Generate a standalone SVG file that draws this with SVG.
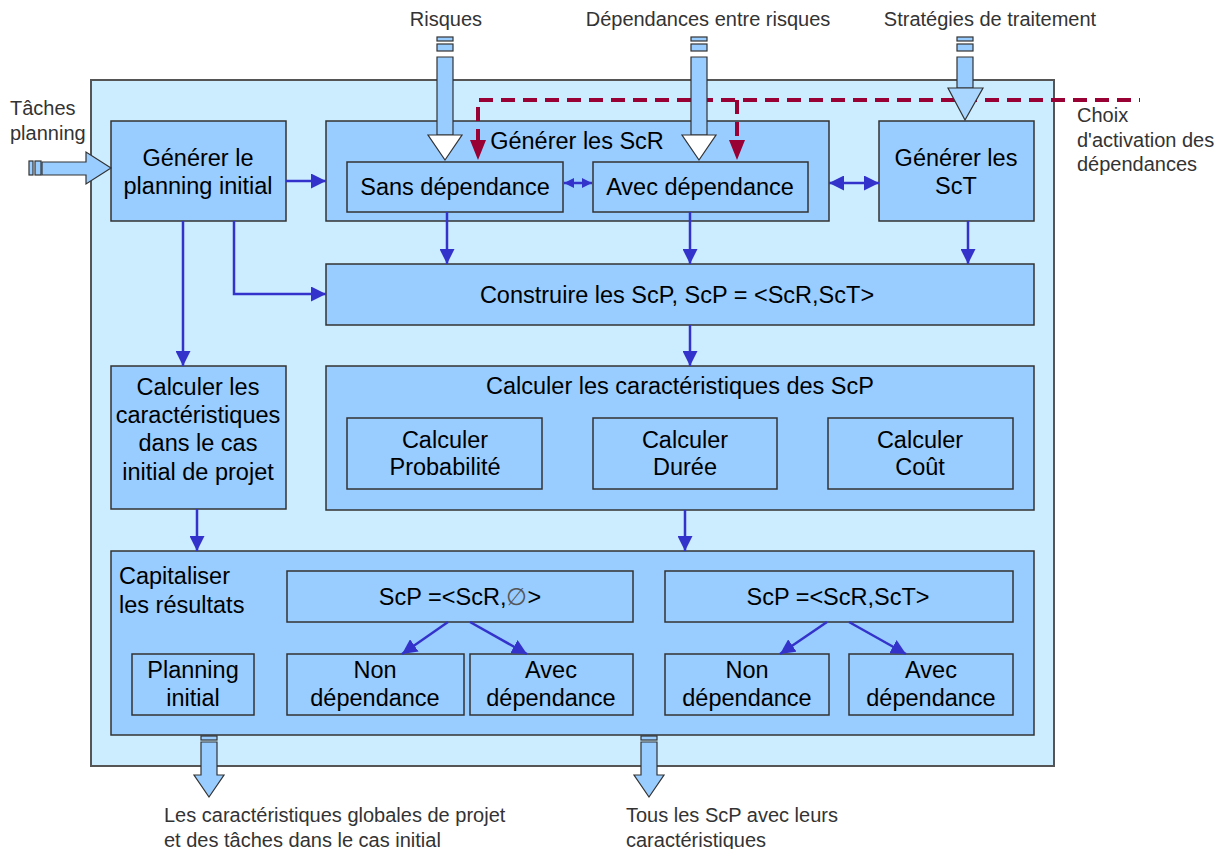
<svg xmlns="http://www.w3.org/2000/svg" width="1224" height="849" viewBox="0 0 1224 849">
<defs>
<style>
.outer{fill:#CCECFF;stroke:#555;stroke-width:2}
.box{fill:#99CCFF;stroke:#333;stroke-width:1.5}
.t{font-family:"Liberation Sans",Arial,sans-serif;font-size:23.5px;fill:#000;text-anchor:middle}
.tl{font-family:"Liberation Sans",Arial,sans-serif;font-size:23.5px;fill:#000}
.o{font-family:"Liberation Sans",Arial,sans-serif;font-size:20px;fill:#333}
.om{font-family:"Liberation Sans",Arial,sans-serif;font-size:20px;fill:#333;text-anchor:middle}
.c{stroke:#3333CC;stroke-width:2.5;fill:none}
.d{stroke:#990033;stroke-width:4;fill:none;stroke-dasharray:14 8}
.ba{fill:#99CCFF;stroke:#333;stroke-width:1.2}
.bh{fill:#FFFFFF;stroke:#333;stroke-width:1.2}
</style>
<marker id="ah" viewBox="0 0 10 10" refX="10" refY="5" markerWidth="6" markerHeight="6" markerUnits="strokeWidth" orient="auto-start-reverse"><path d="M0,0 L10,5 L0,10 z" fill="#3333CC"/></marker>
<marker id="ahs" viewBox="0 0 10 10" refX="10" refY="5" markerWidth="4" markerHeight="4" markerUnits="strokeWidth" orient="auto-start-reverse"><path d="M0,0 L10,5 L0,10 z" fill="#3333CC"/></marker>
</defs>

<rect class="outer" x="91" y="80" width="963" height="686"/>

<g id="n_planning">
<rect class="box" x="111" y="121" width="175" height="100"/>
<text class="t" x="198" y="166">Générer le</text>
<text class="t" x="198" y="194">planning initial</text>
</g>

<g id="n_scr">
<rect class="box" x="326" y="121" width="503" height="100"/>
<text class="t" x="577" y="149">Générer les ScR</text>
</g>
<g id="n_sans">
<rect class="box" x="347" y="162" width="216" height="50"/>
<text class="t" x="455" y="195">Sans dépendance</text>
</g>
<g id="n_avec">
<rect class="box" x="593" y="162" width="215" height="50"/>
<text class="t" x="700" y="195">Avec dépendance</text>
</g>

<g id="n_sct">
<rect class="box" x="879" y="121" width="155" height="100"/>
<text class="t" x="956" y="166">Générer les</text>
<text class="t" x="956" y="194">ScT</text>
</g>

<g id="n_construire">
<rect class="box" x="326" y="264" width="708" height="61"/>
<text class="t" x="677" y="303">Construire les ScP, ScP = &lt;ScR,ScT&gt;</text>
</g>

<g id="n_calcinit">
<rect class="box" x="111" y="366" width="175" height="143"/>
<text class="t" x="198" y="395">Calculer les</text>
<text class="t" x="198" y="423">caractéristiques</text>
<text class="t" x="198" y="451">dans le cas</text>
<text class="t" x="198" y="480">initial de projet</text>
</g>

<g id="n_calcscp">
<rect class="box" x="326" y="366" width="708" height="144"/>
<text class="t" x="680" y="394">Calculer les caractéristiques des ScP</text>
</g>
<g id="n_prob">
<rect class="box" x="347" y="418" width="195" height="71"/>
<text class="t" x="445" y="448">Calculer</text>
<text class="t" x="445" y="475">Probabilité</text>
</g>
<g id="n_duree">
<rect class="box" x="593" y="418" width="184" height="71"/>
<text class="t" x="685" y="448">Calculer</text>
<text class="t" x="685" y="475">Durée</text>
</g>
<g id="n_cout">
<rect class="box" x="828" y="418" width="185" height="71"/>
<text class="t" x="920" y="448">Calculer</text>
<text class="t" x="920" y="475">Coût</text>
</g>

<g id="n_capital">
<rect class="box" x="111" y="551" width="923" height="184"/>
<text class="tl" x="119" y="584">Capitaliser</text>
<text class="tl" x="119" y="613">les résultats</text>
</g>
<g id="n_scp_empty">
<rect class="box" x="287" y="571" width="346" height="51"/>
<text class="t" x="460" y="605">ScP =&lt;ScR,<tspan fill="#555">∅</tspan>&gt;</text>
</g>
<g id="n_scp_sct">
<rect class="box" x="665" y="571" width="348" height="51"/>
<text class="t" x="838" y="605">ScP =&lt;ScR,ScT&gt;</text>
</g>
<g id="n_plan_init">
<rect class="box" x="132" y="654" width="122" height="61"/>
<text class="t" x="193" y="678">Planning</text>
<text class="t" x="193" y="706">initial</text>
</g>
<g id="n_non1">
<rect class="box" x="287" y="654" width="177" height="61"/>
<text class="t" x="375" y="678">Non</text>
<text class="t" x="375" y="706">dépendance</text>
</g>
<g id="n_avec1">
<rect class="box" x="470" y="654" width="163" height="61"/>
<text class="t" x="551" y="678">Avec</text>
<text class="t" x="551" y="706">dépendance</text>
</g>
<g id="n_non2">
<rect class="box" x="665" y="654" width="164" height="61"/>
<text class="t" x="747" y="678">Non</text>
<text class="t" x="747" y="706">dépendance</text>
</g>
<g id="n_avec2">
<rect class="box" x="849" y="654" width="164" height="61"/>
<text class="t" x="931" y="678">Avec</text>
<text class="t" x="931" y="706">dépendance</text>
</g>

<g id="connectors">
<path class="c" marker-end="url(#ah)" d="M286,181 H326"/>
<path class="c" marker-end="url(#ah)" d="M183,221 V366"/>
<path class="c" marker-end="url(#ah)" d="M234,221 V294 H326"/>
<path class="c" marker-end="url(#ah)" d="M447,212 V264"/>
<path class="c" marker-end="url(#ah)" d="M690,212 V264"/>
<path class="c" marker-end="url(#ah)" d="M968,221 V264"/>
<path class="c" marker-start="url(#ahs)" marker-end="url(#ahs)" d="M564,183 H592"/>
<path class="c" marker-start="url(#ah)" marker-end="url(#ah)" d="M829,183 H879"/>
<path class="c" marker-end="url(#ah)" d="M690,325 V366"/>
<path class="c" marker-end="url(#ah)" d="M197,509 V551"/>
<path class="c" marker-end="url(#ah)" d="M685,510 V551"/>
<path class="c" marker-end="url(#ah)" d="M448,622 L402,654"/>
<path class="c" marker-end="url(#ah)" d="M470,622 L527,654"/>
<path class="c" marker-end="url(#ah)" d="M827,622 L780,654"/>
<path class="c" marker-end="url(#ah)" d="M849,622 L906,654"/>
<path class="d" d="M478,143 V100 H1140"/>
<path class="d" d="M737,100 V143"/>
<path d="M470,140 L486,140 L478,160 z" fill="#990033"/>
<path d="M729,140 L745,140 L737,160 z" fill="#990033"/>
</g>

<g id="in_risques">
<rect class="ba" x="437" y="37" width="16" height="4"/>
<rect class="ba" x="437" y="44" width="16" height="7"/>
<path class="ba" d="M437,57 V135 H453 V57 z"/>
<path class="bh" d="M428,135 H462 L445,160 z"/>
<text class="om" x="446" y="26">Risques</text>
</g>
<g id="in_dep">
<rect class="ba" x="691" y="37" width="16" height="4"/>
<rect class="ba" x="691" y="44" width="16" height="7"/>
<path class="ba" d="M691,57 V135 H707 V57 z"/>
<path class="bh" d="M682,135 H716 L699,160 z"/>
<text class="om" x="708" y="26">Dépendances entre risques</text>
</g>
<g id="in_strat">
<rect class="ba" x="957" y="37" width="16" height="4"/>
<rect class="ba" x="957" y="44" width="16" height="7"/>
<path class="ba" d="M957,57 V88 H973 V57 z"/>
<path d="M948,88 H983 L965,120 z" fill="#A8D6FF" stroke="#333" stroke-width="1.2"/>
<text class="om" x="990" y="26">Stratégies de traitement</text>
</g>
<g id="in_taches">
<rect class="ba" x="29" y="161" width="4" height="14"/>
<rect class="ba" x="35" y="161" width="6" height="14"/>
<path class="ba" d="M42,162 H86 V152 L111,168 L86,184 V175 H42 z"/>
<text class="o" x="10" y="115">Tâches</text>
<text class="o" x="10" y="140">planning</text>
</g>
<g id="lbl_choix">
<text class="o" x="1077" y="122">Choix</text>
<text class="o" x="1077" y="147">d'activation des</text>
<text class="o" x="1077" y="171">dépendances</text>
</g>
<g id="out_left">
<rect class="ba" x="201" y="736" width="16" height="4"/>
<path class="ba" d="M201,742 H217 V775 H224 L209,797 L194,775 H201 z"/>
<text class="o" x="164" y="822">Les caractéristiques globales de projet</text>
<text class="o" x="164" y="847">et des tâches dans le cas initial</text>
</g>
<g id="out_right">
<rect class="ba" x="641" y="736" width="16" height="4"/>
<path class="ba" d="M641,742 H657 V775 H664 L649,797 L634,775 H641 z"/>
<text class="o" x="626" y="822">Tous les ScP avec leurs</text>
<text class="o" x="626" y="847">caractéristiques</text>
</g>
</svg>
